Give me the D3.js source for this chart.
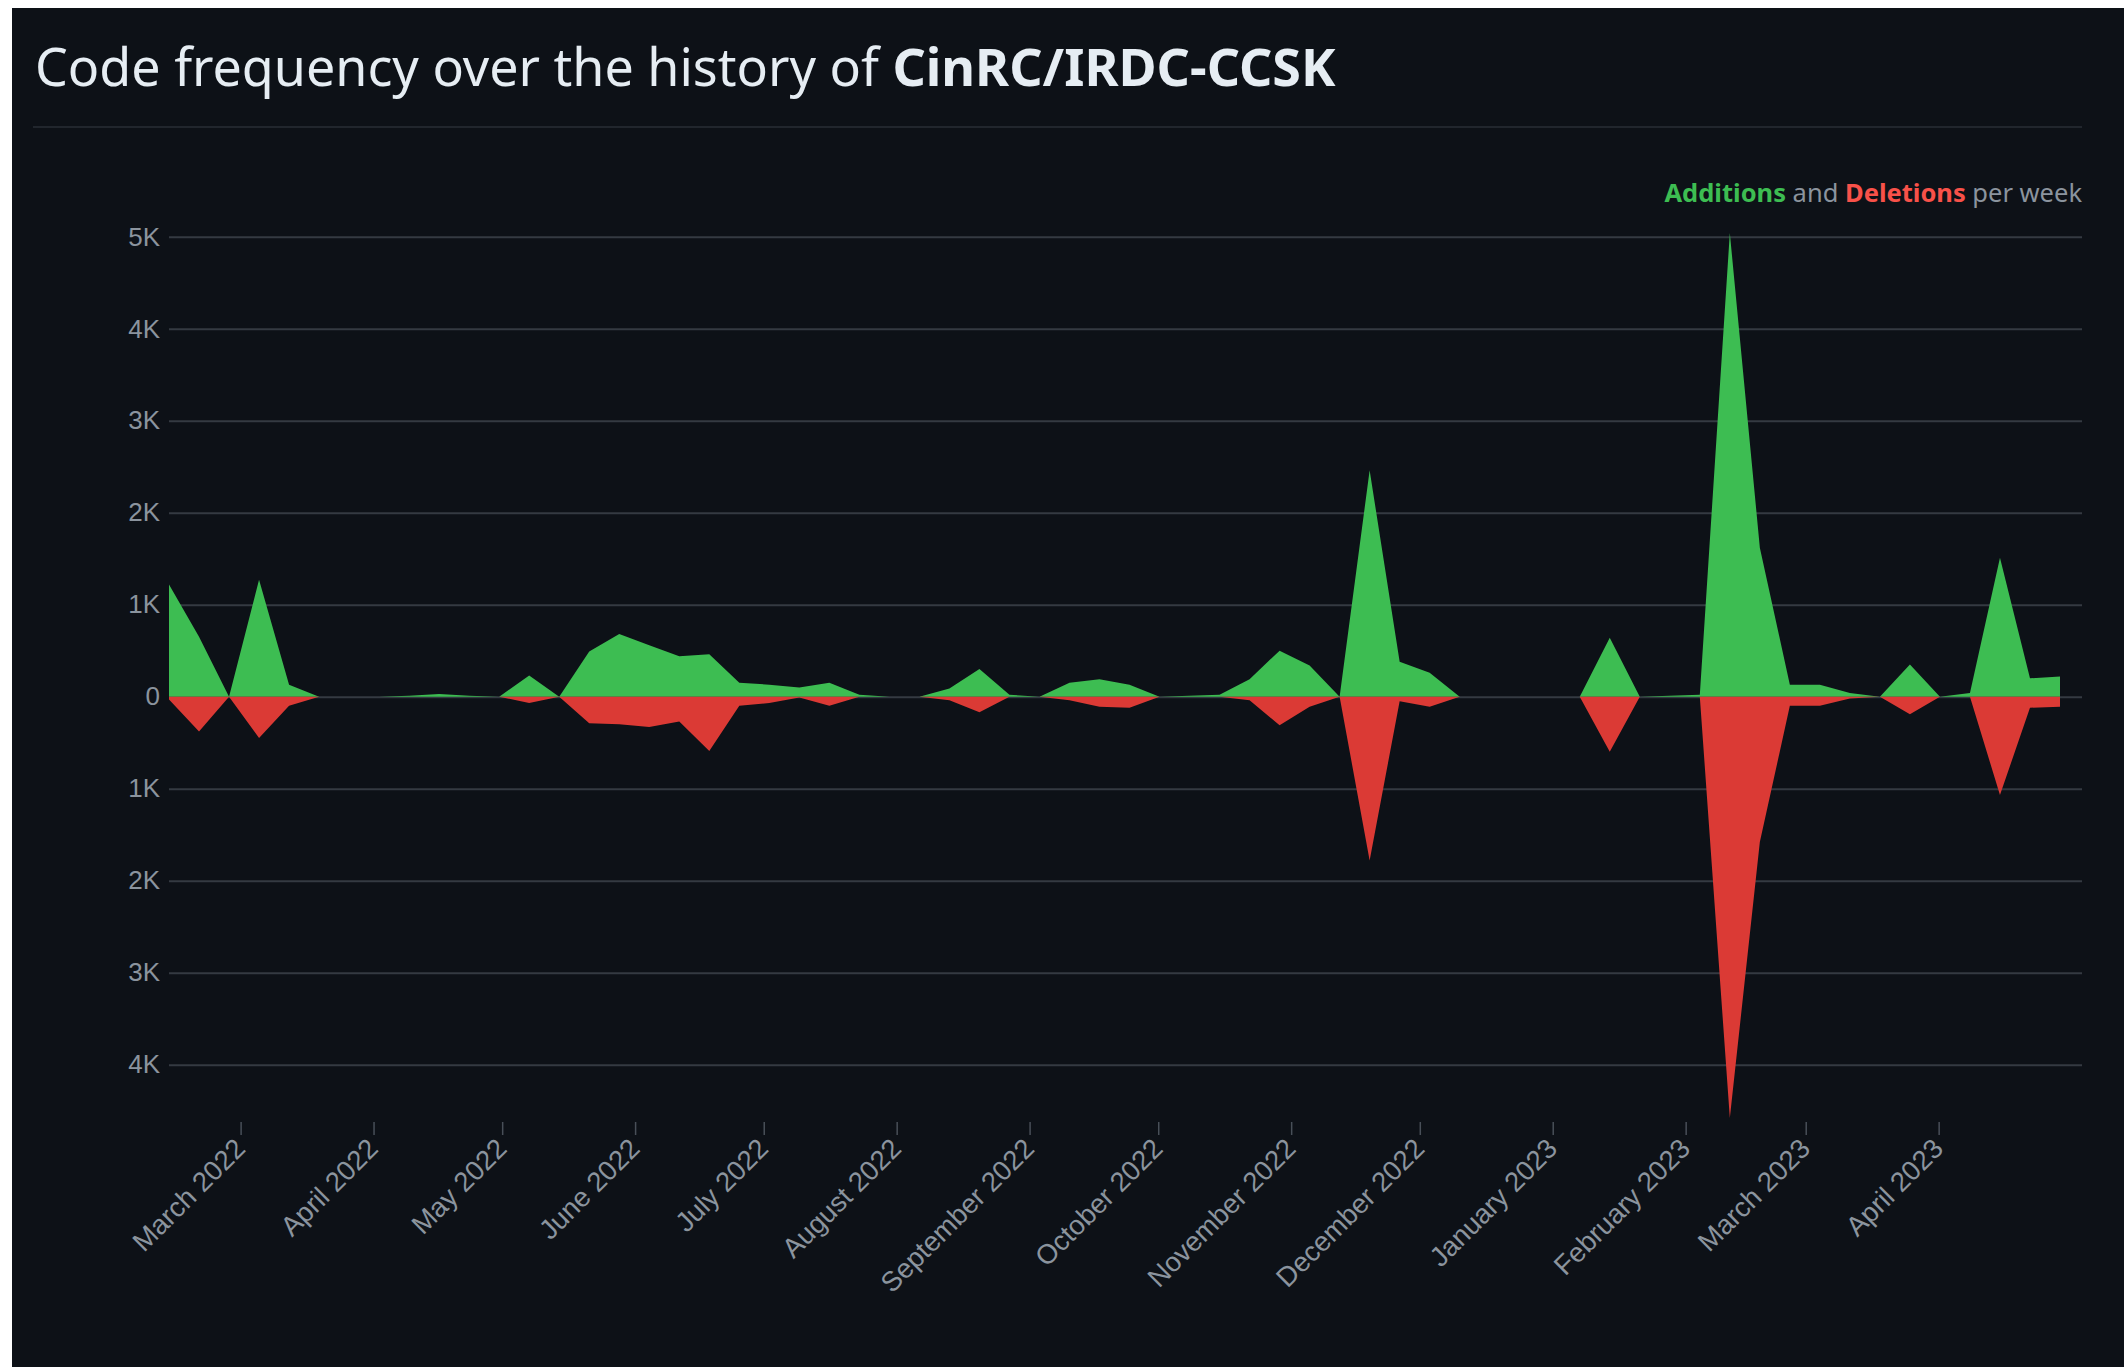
<!DOCTYPE html>
<html>
<head>
<meta charset="utf-8">
<script src="https://cdn.jsdelivr.net/npm/d3@7"></script>
<style>
  body { margin: 0; background: #ffffff; }
  svg { display: block; }
</style>
</head>
<body>
<div id="chart"></div>
<script>
// Weekly code frequency (one point per week, Sunday start)
var weeks = [
    "2022-02-13", "2022-02-20", "2022-02-27", "2022-03-06", "2022-03-13", "2022-03-20", "2022-03-27",
    "2022-04-03", "2022-04-10", "2022-04-17", "2022-04-24", "2022-05-01", "2022-05-08", "2022-05-15",
    "2022-05-22", "2022-05-29", "2022-06-05", "2022-06-12", "2022-06-19", "2022-06-26", "2022-07-03",
    "2022-07-10", "2022-07-17", "2022-07-24", "2022-07-31", "2022-08-07", "2022-08-14", "2022-08-21",
    "2022-08-28", "2022-09-04", "2022-09-11", "2022-09-18", "2022-09-25", "2022-10-02", "2022-10-09",
    "2022-10-16", "2022-10-23", "2022-10-30", "2022-11-06", "2022-11-13", "2022-11-20", "2022-11-27",
    "2022-12-04", "2022-12-11", "2022-12-18", "2022-12-25", "2023-01-01", "2023-01-08", "2023-01-15",
    "2023-01-22", "2023-01-29", "2023-02-05", "2023-02-12", "2023-02-19", "2023-02-26", "2023-03-05",
    "2023-03-12", "2023-03-19", "2023-03-26", "2023-04-02", "2023-04-09", "2023-04-16", "2023-04-23",
    "2023-04-30"
];

var additions = [
    1220, 650, 0, 1270, 130, 0, 0, 0, 10, 30, 10, 0, 230, 0,
    490, 680, 560, 440, 460, 150, 130, 100, 150, 20, 0, 0, 90, 300,
    20, 0, 150, 190, 130, 0, 10, 20, 190, 500, 340, 0, 2460, 380,
    260, 0, 0, 0, 0, 0, 640, 0, 10, 20, 5040, 1620, 130, 130,
    40, 0, 350, 0, 40, 1510, 200, 220
];

var deletions = [
    30, 380, 0, 450, 100, 0, 0, 0, 0, 0, 0, 0, 70, 0,
    290, 300, 330, 270, 590, 100, 70, 10, 100, 0, 0, 0, 40, 170,
    0, 0, 40, 110, 120, 0, 0, 0, 40, 310, 110, 0, 1780, 50,
    110, 0, 0, 0, 0, 0, 600, 0, 0, 0, 4580, 1580, 100, 100,
    20, 0, 190, 0, 0, 1070, 120, 110
];

var yTicks = [-4000, -3000, -2000, -1000, 0, 1000, 2000, 3000, 4000, 5000];

// SVG area
var svgWidth = 2124;
var svgHeight = 1367;

var plot = {
    left: 169,
    right: 2060,
    gridRight: 2082,
    top: 233,
    bottom: 1118
};

var green = "#3dbd52";
var red = "#db3a35";
var axisGray = "#8b949e";
var gridGray = "#343a42";

var svg = d3.select("#chart")
    .append("svg")
    .attr("width", svgWidth)
    .attr("height", svgHeight);

// dark panel (white border on the left and top like the screenshot)
svg.append("rect")
    .attr("x", 12)
    .attr("y", 8)
    .attr("width", svgWidth - 12)
    .attr("height", svgHeight - 8)
    .attr("fill", "#0d1117");

// Title
var title = svg.append("text")
    .attr("x", 35)
    .attr("y", 86)
    .attr("fill", "#e6edf3")
    .style("font-family", "'Noto Sans', 'Open Sans', sans-serif")
    .style("font-size", "52px");

title.append("tspan").text("Code frequency over the history of ");
title.append("tspan").attr("font-weight", "bold").text("CinRC/IRDC-CCSK");

svg.append("line")
    .attr("x1", 33)
    .attr("x2", plot.gridRight)
    .attr("y1", 127)
    .attr("y2", 127)
    .attr("stroke", "#21262d")
    .attr("stroke-width", 2);

// Legend
var legend = svg.append("text")
    .attr("x", plot.gridRight)
    .attr("y", 202)
    .attr("text-anchor", "end")
    .style("font-family", "'Noto Sans', 'Open Sans', sans-serif")
    .style("font-size", "25.5px");

legend.append("tspan").attr("fill", green).attr("font-weight", "bold").text("Additions");
legend.append("tspan").attr("fill", axisGray).text(" and ");
legend.append("tspan").attr("fill", "#f85149").attr("font-weight", "bold").text("Deletions");
legend.append("tspan").attr("fill", axisGray).text(" per week");

// Parse data
var parseDate = d3.timeParse("%Y-%m-%d");
var data = weeks.map(function (w, i) {
    return { date: parseDate(w), add: additions[i], del: deletions[i] };
});

// Scales
var xScale = d3.scaleTime()
    .domain(d3.extent(data, d => d.date))
    .range([plot.left, plot.right]);

var yScale = d3.scaleLinear()
    .domain([-d3.max(data, d => d.del), d3.max(data, d => d.add)])
    .range([plot.bottom, plot.top]);

// Gridlines + y labels
var leftAxis = d3.axisLeft(yScale)
    .tickValues(yTicks)
    .tickSize(-(plot.gridRight - plot.left))
    .tickPadding(9)
    .tickFormat(d => d === 0 ? "0" : Math.abs(d / 1000) + "K");

var yAxis = svg.append("g")
    .attr("transform", `translate(${plot.left}, 0)`)
    .call(leftAxis);

yAxis.select(".domain").remove();
yAxis.selectAll(".tick line")
    .attr("stroke", gridGray)
    .attr("stroke-width", 2);
yAxis.selectAll(".tick text")
    .attr("fill", axisGray)
    .style("font-family", "'Liberation Sans', Arial, sans-serif")
    .style("font-size", "26px");

// Areas
var addArea = d3.area()
    .x(d => xScale(d.date))
    .y0(yScale(0))
    .y1(d => yScale(d.add));

var delArea = d3.area()
    .x(d => xScale(d.date))
    .y0(yScale(0))
    .y1(d => yScale(-d.del));

svg.append("path")
    .datum(data)
    .attr("d", addArea)
    .attr("fill", green);

svg.append("path")
    .datum(data)
    .attr("d", delArea)
    .attr("fill", red);

// x axis (months)
var bottomAxis = d3.axisBottom(xScale)
    .ticks(d3.timeMonth.every(1))
    .tickFormat(d3.timeFormat("%B %Y"))
    .tickSize(13)
    .tickSizeOuter(0);

var xAxis = svg.append("g")
    .attr("transform", `translate(3, ${plot.bottom + 4})`)
    .call(bottomAxis);

xAxis.select(".domain").remove();
xAxis.selectAll(".tick line")
    .attr("stroke", "#484f58")
    .attr("stroke-width", 1.5);
xAxis.selectAll(".tick text")
    .attr("fill", axisGray)
    .attr("text-anchor", "end")
    .attr("x", -16)
    .attr("y", 24)
    .attr("dy", 0)
    .attr("transform", "rotate(-45)")
    .style("font-family", "'Liberation Sans', Arial, sans-serif")
    .style("font-size", "27.5px");
</script>
</body>
</html>
